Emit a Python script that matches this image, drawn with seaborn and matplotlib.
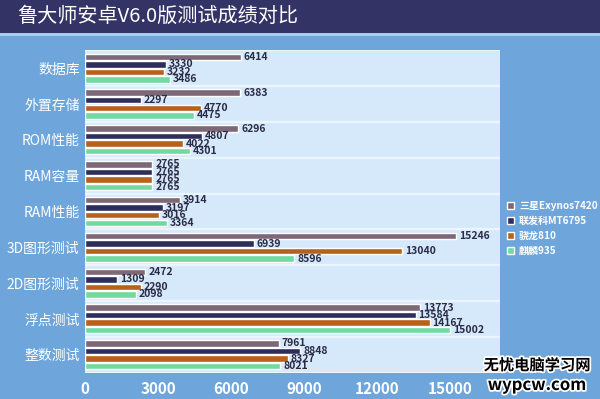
import matplotlib
matplotlib.use("Agg")
import matplotlib.pyplot as plt
import matplotlib.patches as mpatches
import matplotlib.patheffects as pe
import pandas as pd
import seaborn as sns

# 鲁大师安卓V6.0版测试成绩对比
categories = ['数据库', '外置存储', 'ROM性能', 'RAM容量', 'RAM性能',
              '3D图形测试', '2D图形测试', '浮点测试', '整数测试']
chips = ['三星Exynos7420', '联发科MT6795', '骁龙810', '麒麟935']
exynos7420 = [6414, 6383, 6296, 2765, 3914, 15246, 2472, 13773, 7961]
mt6795 = [3330, 2297, 4807, 2765, 3197, 6939, 1309, 13584, 8848]
snapdragon810 = [3232, 4770, 4022, 2765, 3016, 13040, 2290, 14167, 8327]
kirin935 = [3486, 4475, 4301, 2765, 3364, 8596, 2098, 15002, 8021]
x_ticks = [0, 3000, 6000, 9000, 12000, 15000]

colors = ['#7d6877', '#2f2d5c', '#b6621c', '#72d9a2']

df = pd.DataFrame({
    'test': categories * 4,
    'chip': [c for c in chips for _ in categories],
    'score': exynos7420 + mt6795 + snapdragon810 + kirin935,
})

sns.set_theme(style='white')
plt.rcParams['font.family'] = ['Noto Sans CJK SC', 'DejaVu Sans']

fig = plt.figure(figsize=(6, 3.99), dpi=100)
fig.patch.set_facecolor('#6ea6dc')

# title bar
fig.add_artist(mpatches.Rectangle((0, 0.917), 1, 0.083, transform=fig.transFigure,
                                  facecolor='#333366', edgecolor='none', zorder=0))
fig.add_artist(mpatches.Rectangle((0, 0.911), 1, 0.006, transform=fig.transFigure,
                                  facecolor='#a9cdee', edgecolor='none', zorder=0))
fig.text(0.028, 0.958, '鲁大师安卓V6.0版测试成绩对比', color='white', fontsize=14.5,
         va='center', ha='left')

ax = fig.add_axes([0.142, 0.066, 0.691, 0.808])
ax.set_facecolor('#d6e9fb')

sns.barplot(data=df, x='score', y='test', hue='chip', order=categories,
            hue_order=chips, palette=colors, orient='h', width=0.84, gap=0.14,
            saturation=1, ax=ax, legend=True)

for cont in ax.containers:
    ax.bar_label(cont, padding=2, fontsize=7.5, fontweight='bold', color='#2b2b45')

ax.set_xlim(0, 17050)
ax.set_ylim(len(categories) - 0.5, -0.5)
for i in range(len(categories) + 1):
    ax.axhline(i - 0.5, color='#eaf5fe', lw=1.6, zorder=0.5)

ax.set_xticks(x_ticks)
ax.set_xticklabels([str(t) for t in x_ticks], color='white', fontsize=11, fontweight='bold')
ax.tick_params(axis='x', length=0, pad=6)
ax.tick_params(axis='y', length=0, pad=4, labelsize=10, labelcolor='white')
ax.set_xlabel('')
ax.set_ylabel('')
for s in ax.spines.values():
    s.set_visible(False)

leg = ax.legend(loc='upper left', bbox_to_anchor=(0.837, 0.51), bbox_transform=fig.transFigure,
                frameon=False, fontsize=7.2, labelcolor='white', handlelength=0.7,
                handleheight=0.7, handletextpad=0.5, labelspacing=0.5, borderpad=0)
for t in leg.get_texts():
    t.set_fontweight('bold')

# watermark
stroke = [pe.withStroke(linewidth=2.5, foreground='white')]
fig.text(0.895, 0.085, '无忧电脑学习网', fontsize=11, fontweight='bold', color='black',
         ha='center', va='center', path_effects=stroke)
fig.text(0.895, 0.035, 'wypcw.com', fontsize=12, fontweight='bold', color='black',
         ha='center', va='center', path_effects=stroke)

fig.savefig('out.png', dpi=100, facecolor=fig.get_facecolor())
